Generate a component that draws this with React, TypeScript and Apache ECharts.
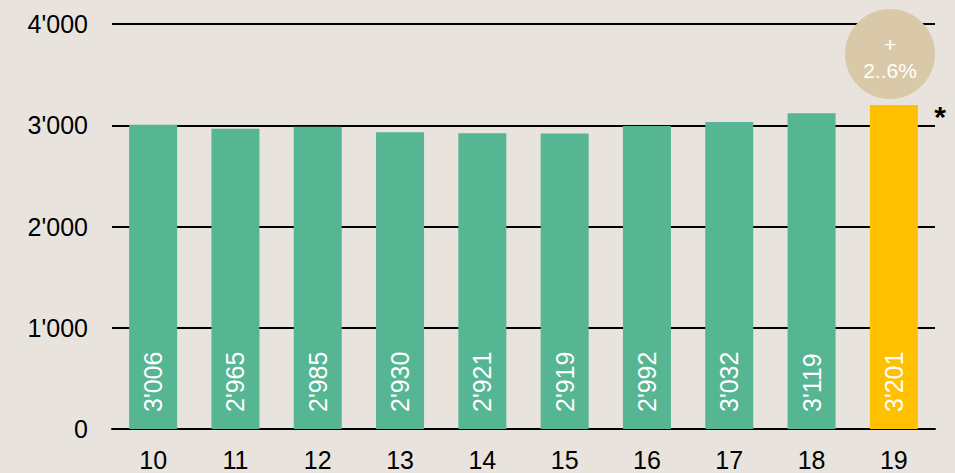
import React, { useEffect, useRef } from "react";
import * as echarts from "echarts";

const categories = ["10", "11", "12", "13", "14", "15", "16", "17", "18", "19"];
const values = [3006, 2965, 2985, 2930, 2921, 2919, 2992, 3032, 3119, 3201];
const highlightIndex = 9;
const badgeLines = ["+", "2..6%"];

const FONT = "Arial";

const fmt = (v: number) => {
  const s = String(Math.round(v));
  return s.length > 3 ? s.slice(0, s.length - 3) + "'" + s.slice(-3) : s;
};

export default function App() {
  const ref = useRef<HTMLDivElement>(null);
  useEffect(() => {
    const chart = echarts.init(ref.current!, undefined, { renderer: "svg" });
    chart.setOption({
      animation: false,
      backgroundColor: "#e8e3dd",
      textStyle: { fontFamily: FONT },
      grid: { left: 112, right: 20, top: 24, bottom: 44, containLabel: false },
      xAxis: {
        type: "category",
        data: categories,
        axisLine: { lineStyle: { color: "#000", width: 2 } },
        axisTick: { show: false },
        axisLabel: { color: "#000", fontSize: 25, fontFamily: FONT, margin: 18 },
      },
      yAxis: {
        type: "value",
        min: 0,
        max: 4000,
        interval: 1000,
        axisLine: { show: false },
        axisTick: { show: false },
        axisLabel: { color: "#000", fontSize: 25, fontFamily: FONT, margin: 24, formatter: (v: number) => fmt(v) },
        splitLine: { lineStyle: { color: "#000", width: 2 } },
      },
      series: [
        {
          type: "bar",
          barWidth: 48,
          z: 3,
          data: values.map((v, i) => ({
            value: v,
            itemStyle: { color: i === highlightIndex ? "#ffc000" : "#56b593" },
          })),
          label: {
            show: true,
            position: "insideBottom",
            rotate: 90,
            align: "left",
            verticalAlign: "middle",
            distance: 17,
            color: "#fff",
            fontSize: 25,
            fontFamily: FONT,
            formatter: (p: any) => fmt(p.value),
          },
        },
      ],
      graphic: [
        { type: "circle", shape: { cx: 890, cy: 54, r: 45 }, style: { fill: "#d9c9a8" }, z: 10 },
        {
          type: "text",
          x: 890,
          y: 44,
          style: { text: badgeLines[0], fill: "#fff", fontSize: 21, align: "center", verticalAlign: "middle", fontFamily: FONT },
          z: 11,
        },
        {
          type: "text",
          x: 890,
          y: 70,
          style: { text: badgeLines[1], fill: "#fff", fontSize: 21, align: "center", verticalAlign: "middle", fontFamily: FONT },
          z: 11,
        },
        {
          type: "text",
          x: 940,
          y: 116,
          style: { text: "*", fill: "#000", fontSize: 30, fontWeight: "bold", align: "center", verticalAlign: "middle", fontFamily: FONT },
          z: 11,
        },
      ],
    });
    return () => chart.dispose();
  }, []);
  return <div ref={ref} style={{ width: 955, height: 473, position: "absolute", left: 0, top: 0 }} />;
}
